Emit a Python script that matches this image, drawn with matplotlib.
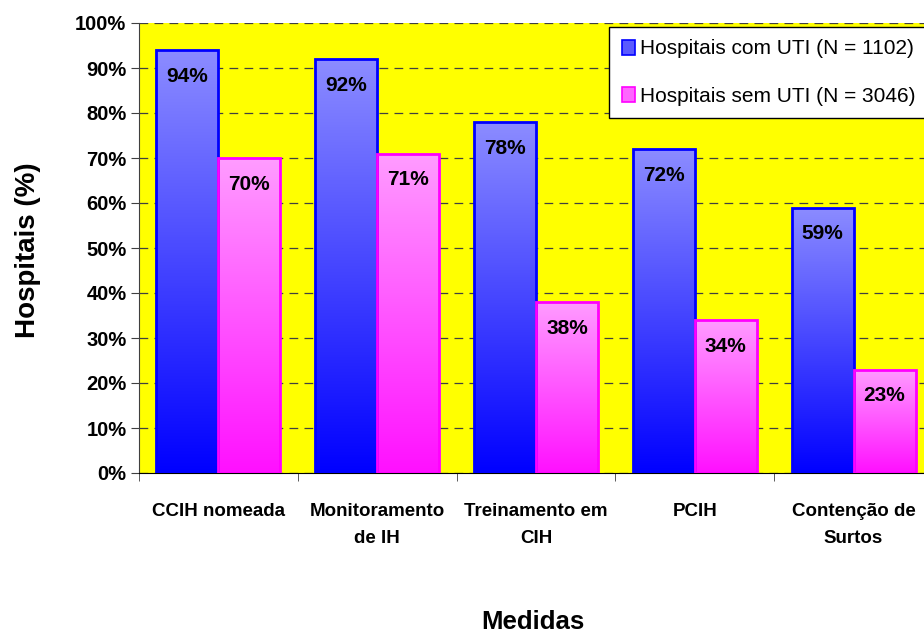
import numpy as np
import matplotlib.pyplot as plt
from matplotlib.colors import LinearSegmentedColormap
from matplotlib.patches import Patch

categories = ["CCIH nomeada", "Monitoramento\nde IH", "Treinamento em\nCIH", "PCIH", "Contenção de\nSurtos"]
com_uti = [94, 92, 78, 72, 59]
sem_uti = [70, 71, 38, 34, 23]
series_names = ["Hospitais com UTI (N = 1102)", "Hospitais sem UTI (N = 3046)"]
yticks = list(range(0, 101, 10))

plt.rcParams['font.family'] = ['Liberation Sans', 'DejaVu Sans']

W, H = 924, 634
fig = plt.figure(figsize=(W / 100, H / 100), dpi=100)
ax = fig.add_axes([139 / W, (H - 473) / H, (933 - 139) / W, 450 / H])
ax.set_facecolor('#ffff00')

blue_map = LinearSegmentedColormap.from_list('b', ['#0000ff', '#8c8cff'])
pink_map = LinearSegmentedColormap.from_list('p', ['#ff10ff', '#ff9cff'])
grad = np.linspace(0, 1, 256).reshape(-1, 1)

x = np.arange(len(categories))
bw = 0.39
for vals, cmap, edge, shift in [(com_uti, blue_map, '#0000ff', -bw / 2),
                                (sem_uti, pink_map, '#ff00ff', bw / 2)]:
    bars = ax.bar(x + 0.5 + shift, vals, width=bw, facecolor='none',
                  edgecolor=edge, linewidth=2.0, zorder=3)
    for b, v in zip(bars, vals):
        im = ax.imshow(grad, extent=[b.get_x(), b.get_x() + b.get_width(), 0, v],
                       origin='lower', aspect='auto', cmap=cmap, zorder=2)
        im.set_clip_path(b)
        ax.annotate(f"{v}%", xy=(b.get_x() + b.get_width() / 2, v),
                    xytext=(0, -19), textcoords='offset points',
                    ha='center', va='center', fontsize=15, fontweight='bold',
                    zorder=4)

ax.set_xlim(0, 5)
ax.set_ylim(0, 100)
ax.set_yticks(yticks)
ax.set_yticklabels([f"{t}%" for t in yticks], fontsize=14.5, fontweight='bold')
ax.yaxis.grid(True, linestyle=(0, (7, 5)), color='#404040', linewidth=0.9)
ax.set_axisbelow(True)

ax.set_xticks(x + 0.5)
ax.set_xticklabels(categories, fontsize=13.5, fontweight='bold', linespacing=1.8)
ax.set_xticks(np.arange(0, 6), minor=True)
ax.tick_params(axis='x', which='major', length=0, pad=21.5)
ax.tick_params(axis='x', which='minor', length=6, direction='out', color='#404040')
ax.tick_params(axis='y', length=6, direction='out', pad=3, color='#404040')

ax.spines['top'].set_visible(False)
ax.spines['right'].set_visible(False)
ax.spines['left'].set_color('#404040')
ax.spines['bottom'].set_color('black')

handles = [Patch(facecolor='#5a5aff', edgecolor='#0000ff', linewidth=1.2),
           Patch(facecolor='#ff66ff', edgecolor='#ff00ff', linewidth=1.2)]
leg = fig.legend(handles, series_names, loc='upper left',
                 bbox_to_anchor=(609 / W, 1 - 27 / H), borderaxespad=0,
                 fontsize=15, frameon=True, fancybox=False, edgecolor='black',
                 framealpha=1, borderpad=0.6, labelspacing=1.35,
                 handlelength=0.65, handleheight=0.7, handletextpad=0.25)
leg.get_frame().set_linewidth(1.0)

fig.text(28 / W, 1 - 250 / H, "Hospitais (%)", rotation=90, ha='center', va='center',
         fontsize=20, fontweight='bold')
fig.text(533 / W, 5 / H, "Medidas", ha='center', va='baseline',
         fontsize=18.5, fontweight='bold')

fig.savefig('out.png', dpi=100)
